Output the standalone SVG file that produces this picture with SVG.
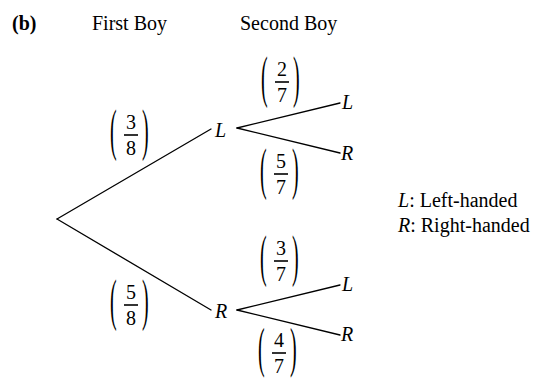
<svg xmlns="http://www.w3.org/2000/svg" width="545" height="379" viewBox="0 0 545 379">
<style>
text{font-family:"Liberation Serif","Times New Roman",serif;font-size:20px;fill:#000}
.it{font-style:italic}
.b{font-weight:bold}
.num{text-anchor:middle}
.bar{stroke:#000;stroke-width:1.6}
.ln{stroke:#000;stroke-width:1.3;fill:none;stroke-linecap:round}
</style>
<rect width="545" height="379" fill="#fff"/>
<g id="headers">
<text class="b" x="12" y="30">(b)</text>
<text x="92" y="30">First Boy</text>
<text x="240" y="30">Second Boy</text>
</g>
<g id="connectors">
<line class="ln" x1="57" y1="219" x2="211" y2="129"/>
<line class="ln" x1="57" y1="219" x2="211" y2="310"/>
<line class="ln" x1="237" y1="128" x2="340" y2="103"/>
<line class="ln" x1="237" y1="128" x2="340" y2="153"/>
<line class="ln" x1="237" y1="310" x2="340" y2="285"/>
<line class="ln" x1="237" y1="310" x2="340" y2="335"/>
</g>
<g id="node-L1"><text class="it" x="215" y="137">L</text></g>
<g id="node-R1"><text class="it" x="215" y="318">R</text></g>
<g id="node-LL"><text class="it" x="342" y="109">L</text></g>
<g id="node-LR"><text class="it" x="341" y="160">R</text></g>
<g id="node-RL"><text class="it" x="342" y="291">L</text></g>
<g id="node-RR"><text class="it" x="341" y="341">R</text></g>
<g id="prob-3-8">
<text transform="translate(110,135) scale(1,2.9)" x="0" y="4.8">(</text>
<text transform="translate(142,135) scale(1,2.9)" x="0" y="4.8">)</text>
<text class="num" x="131" y="129">3</text>
<line class="bar" x1="124" y1="135" x2="138" y2="135"/>
<text class="num" x="131" y="155">8</text>
</g>
<g id="prob-5-8">
<text transform="translate(110,305) scale(1,2.9)" x="0" y="4.8">(</text>
<text transform="translate(142,305) scale(1,2.9)" x="0" y="4.8">)</text>
<text class="num" x="131" y="299">5</text>
<line class="bar" x1="124" y1="305" x2="138" y2="305"/>
<text class="num" x="131" y="325">8</text>
</g>
<g id="prob-2-7">
<text transform="translate(261,82) scale(1,2.9)" x="0" y="4.8">(</text>
<text transform="translate(293,82) scale(1,2.9)" x="0" y="4.8">)</text>
<text class="num" x="282" y="76">2</text>
<line class="bar" x1="275" y1="82" x2="289" y2="82"/>
<text class="num" x="282" y="102">7</text>
</g>
<g id="prob-5-7">
<text transform="translate(260,174) scale(1,2.9)" x="0" y="4.8">(</text>
<text transform="translate(292,174) scale(1,2.9)" x="0" y="4.8">)</text>
<text class="num" x="281" y="168">5</text>
<line class="bar" x1="274" y1="174" x2="288" y2="174"/>
<text class="num" x="281" y="194">7</text>
</g>
<g id="prob-3-7">
<text transform="translate(260,261) scale(1,2.9)" x="0" y="4.8">(</text>
<text transform="translate(292,261) scale(1,2.9)" x="0" y="4.8">)</text>
<text class="num" x="281" y="255">3</text>
<line class="bar" x1="274" y1="261" x2="288" y2="261"/>
<text class="num" x="281" y="281">7</text>
</g>
<g id="prob-4-7">
<text transform="translate(258,353) scale(1,2.75)" x="0" y="4.8">(</text>
<text transform="translate(290,353) scale(1,2.75)" x="0" y="4.8">)</text>
<text class="num" x="279" y="347">4</text>
<line class="bar" x1="272" y1="353" x2="286" y2="353"/>
<text class="num" x="279" y="373">7</text>
</g>
<g id="legend">
<text x="398" y="207"><tspan class="it">L</tspan>: Left-handed</text>
<text x="398" y="232"><tspan class="it">R</tspan>: Right-handed</text>
</g>
</svg>
